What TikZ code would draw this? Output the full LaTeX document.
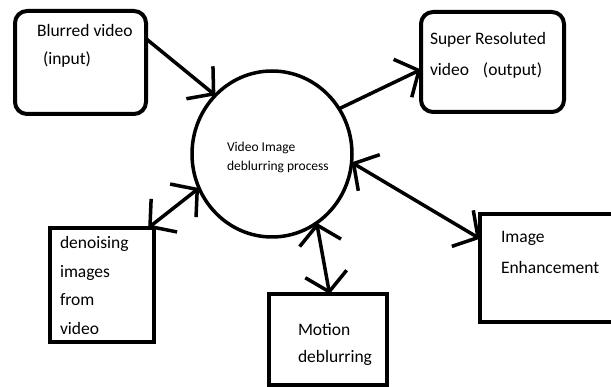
\documentclass[tikz,border=0pt]{standalone}
\usepackage{fontspec}
\setmainfont{Carlito}
\usetikzlibrary{arrows.meta,shapes.geometric,calc}

\begin{document}
\begin{tikzpicture}[x=1pt,y=-1pt,
  every node/.style={outer sep=0pt},
  rbox/.style={draw, line width=4pt, rounded corners=12pt, inner sep=0pt},
  sbox/.style={draw, line width=4pt, inner sep=0pt},
  proc/.style={draw, ellipse, line width=3.5pt, inner sep=0pt,
    minimum width=160pt, minimum height=166pt},
  % multi-line labels are placed by the baseline of their last line
  txt/.style={anchor=base west, inner sep=0pt, align=left,
    font=\fontsize{17.5}{28}\selectfont},
  ptxt/.style={anchor=base west, inner sep=0pt, align=left,
    font=\fontsize{13.5}{19}\selectfont},
  head/.tip={Straight Barb[length=18pt,width=42pt]},
  link/.style={line width=3.5pt, -head},
  dlink/.style={line width=3.5pt, head-head}]

\useasboundingbox (0,0) rectangle (611,387);
\clip (0,0) rectangle (611,387);

% central process
\node[proc] (proc) at (272,154) {};
\node[ptxt] (proctxt) at (227,171) {Video Image\\deblurring process};

% input and output
\node[rbox, minimum width=131pt, minimum height=103pt] (blur) at (80.5,62.5) {};
\node[txt] (blurtxt) at (37,65) {Blurred video\\\hspace*{6pt}(input)};

\node[rbox, minimum width=143pt, minimum height=100pt] (super) at (492.5,62) {};
\node[txt] (supertxt) at (430,76) {Super Resoluted\\[3pt]video\hspace{10pt} (output)};

% side tasks
\node[sbox, minimum width=104pt, minimum height=114pt] (denoise) at (102,285) {};
\node[txt] (denoisetxt) at (60,334.5) {denoising\\[0.5pt]images\\[0.5pt]from\\[0.5pt]video};

\node[sbox, minimum width=118pt, minimum height=91pt] (motion) at (328,339.5) {};
\node[txt] (motiontxt) at (298,363) {Motion\\[-1pt]deblurring};

\node[sbox, minimum width=170pt, minimum height=108pt] (enhance) at (565,268) {};
\node[txt] (enhancetxt) at (501,274) {Image\\[3pt]Enhancement};

% connectors
\draw[link] (blur.20.5) -- (proc.134);
\draw[link] (proc.34.6) -- (super.186.4);
\draw[dlink] (denoise.51) -- (proc.205);
\draw[dlink] (motion.88) -- (proc.-57);
\draw[dlink] (proc.-6.4) -- (enhance.161.8);
\end{tikzpicture}
\end{document}
